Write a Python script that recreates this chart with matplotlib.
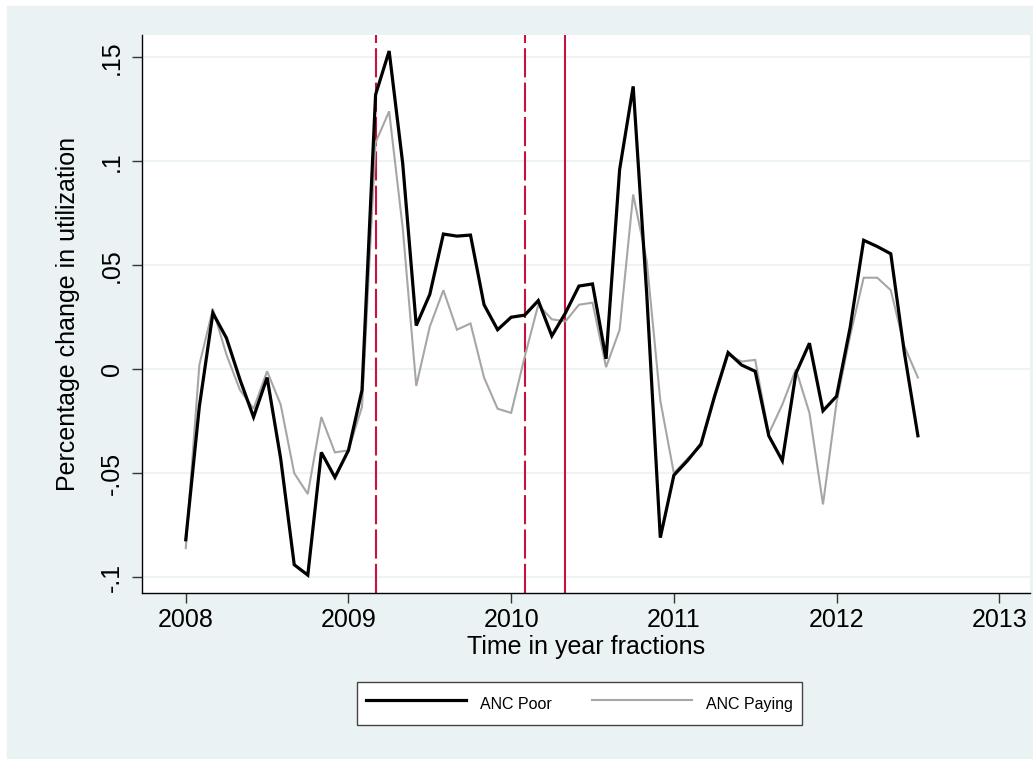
#!/usr/bin/env python3
"""
Monthly percentage change in ANC utilization, poor vs paying patients.
"""
import numpy as np
import matplotlib
matplotlib.use("Agg")
import matplotlib.pyplot as plt
from matplotlib.patches import Rectangle

plt.rcParams["font.family"] = ["Liberation Sans", "DejaVu Sans"]

# monthly series starting January 2008
anc_poor = [
    -0.082, -0.018, 0.027, 0.015, -0.005, -0.023, -0.004, -0.043, -0.094, -0.099,
    -0.040, -0.052, -0.039, -0.010, 0.132, 0.153, 0.099, 0.021, 0.036, 0.065,
    0.064, 0.0645, 0.031, 0.019, 0.025, 0.026, 0.033, 0.016, 0.027, 0.040,
    0.041, 0.005, 0.096, 0.136, 0.036, -0.081, -0.051, -0.044, -0.036, -0.013,
    0.008, 0.002, -0.001, -0.032, -0.044, -0.002, 0.0125, -0.020, -0.013, 0.020,
    0.062, 0.059, 0.0555, 0.008, -0.032,
]
anc_paying = [
    -0.086, 0.002, 0.029, 0.007, -0.010, -0.019, -0.001, -0.017, -0.050, -0.060,
    -0.023, -0.040, -0.039, -0.018, 0.109, 0.124, 0.068, -0.008, 0.0205, 0.038,
    0.019, 0.022, -0.004, -0.019, -0.021, 0.006, 0.031, 0.024, 0.023, 0.031,
    0.032, 0.001, 0.019, 0.084, 0.052, -0.015, -0.050, -0.043, -0.037, -0.014,
    0.007, 0.0037, 0.0045, -0.031, -0.017, 0.000, -0.021, -0.065, -0.016, 0.016,
    0.044, 0.044, 0.038, 0.011, -0.004,
]
start_year = 2008
event_times = [2009 + 2 / 12, 2010 + 1 / 12, 2010 + 4 / 12]
event_styles = ["dashed", "dashed", "solid"]

x_ticks = [2008, 2009, 2010, 2011, 2012, 2013]
y_ticks = [-0.1, -0.05, 0, 0.05, 0.1, 0.15]
y_labels = ["-.1", "-.05", "0", ".05", ".1", ".15"]

BG = "#EAF2F3"
RED = "#C8133F"

time = start_year + np.arange(len(anc_poor)) / 12

W, H = 1033, 759
fig = plt.figure(figsize=(W / 100, H / 100), dpi=100, facecolor="white")
fig.patches.append(Rectangle((7 / W, 0), 1 - 7 / W, 1 - 6 / H,
                             transform=fig.transFigure, color=BG, zorder=-10))

ax = fig.add_axes([142 / W, 1 - 593 / H, (1030 - 142) / W, (593 - 35) / H])
ax.set_facecolor("white")

for yv in y_ticks:
    ax.axhline(yv, color=BG, lw=1.2, zorder=0)

for t, st in zip(event_times, event_styles):
    if st == "dashed":
        ax.axvline(t, color=RED, lw=1.5, dashes=(14, 2.5), zorder=1)
    else:
        ax.axvline(t, color=RED, lw=1.5, zorder=1)

ax.plot(time, anc_poor, color="black", lw=2.3, label="ANC Poor", zorder=3,
        solid_joinstyle="miter")
ax.plot(time, anc_paying, color="#A6A6A6", lw=1.5, label="ANC Paying", zorder=2,
        solid_joinstyle="miter")

ax.set_xlim(2007.731, 2013.189)
ax.set_ylim(-0.1076, 0.1607)
ax.set_xticks(x_ticks)
ax.set_xticklabels([str(v) for v in x_ticks])
ax.set_yticks(y_ticks)
ax.set_yticklabels(y_labels, rotation=90, va="center")

for s in ("top", "right"):
    ax.spines[s].set_visible(False)
for s in ("left", "bottom"):
    ax.spines[s].set_linewidth(1.0)
ax.tick_params(axis="both", length=7, width=1.0, labelsize=18, color="#333333")
ax.tick_params(axis="x", pad=4)
ax.tick_params(axis="y", pad=6)

ax.set_xlabel("Time in year fractions", fontsize=18, labelpad=2)
ax.set_ylabel("Percentage change in utilization", fontsize=18, labelpad=14)

leg = fig.legend(loc="center", bbox_to_anchor=(579.5 / W, 1 - 703.5 / H), ncol=2,
                 fontsize=11.5, handlelength=6.25, handleheight=2.0,
                 handletextpad=0.9, columnspacing=2.5, borderpad=0.55,
                 fancybox=False, framealpha=1, edgecolor="#444444")
leg.get_frame().set_linewidth(1.0)

fig.savefig("out.png", dpi=100, facecolor=fig.get_facecolor())
